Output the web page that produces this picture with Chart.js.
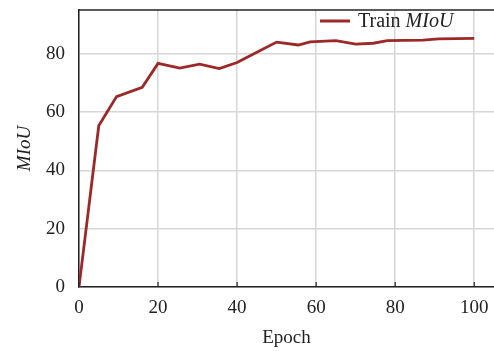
<!DOCTYPE html>
<html>
<head>
<meta charset="utf-8">
<script src="https://cdn.jsdelivr.net/npm/chart.js@4.4.1/dist/chart.umd.min.js"></script>
<style>
  html, body { margin: 0; padding: 0; background: #fff; }
  #wrap { width: 494px; height: 351px; position: relative; }
</style>
</head>
<body>
<div id="wrap"><canvas id="grafico"></canvas></div>
<script>
// datos
const epochs = [0, 5, 9.5, 16, 20, 25.5, 30.5, 35.5, 40, 45, 50, 55.5, 58.5, 65, 70, 74.5, 78, 87, 91, 100];
const trainMiou = [0, 55.3, 65.3, 68.5, 76.7, 75.1, 76.4, 74.9, 77, 80.5, 84, 83, 84.1, 84.5, 83.3, 83.6, 84.5, 84.7, 85.1, 85.3];
const xTicks = [0, 20, 40, 60, 80, 100];
const yTicks = [0, 20, 40, 60, 80];

const serif = "'Liberation Serif', 'Times New Roman', serif";
const texto = '#222';
const rojo = '#9c2828';

// marco superior, marcas internas del eje x y leyenda con MIoU en cursiva
const extras = {
  id: 'extras',
  afterDraw(chart) {
    const { ctx, chartArea: a, scales } = chart;
    ctx.save();
    ctx.strokeStyle = texto;
    ctx.lineWidth = 1.5;
    ctx.beginPath();
    ctx.moveTo(a.left, a.top);
    ctx.lineTo(a.right, a.top);
    ctx.stroke();

    ctx.lineWidth = 1.2;
    xTicks.forEach(v => {
      const px = scales.x.getPixelForValue(v);
      ctx.beginPath();
      ctx.moveTo(px, a.bottom);
      ctx.lineTo(px, a.bottom - 5);
      ctx.stroke();
    });

    const lx = a.right - 174;
    const ly = a.top + 11;
    ctx.strokeStyle = rojo;
    ctx.lineWidth = 3;
    ctx.beginPath();
    ctx.moveTo(lx, ly);
    ctx.lineTo(lx + 30, ly);
    ctx.stroke();

    ctx.fillStyle = texto;
    ctx.textBaseline = 'middle';
    ctx.font = `20px ${serif}`;
    const parte1 = 'Train ';
    ctx.fillText(parte1, lx + 38, ly + 1);
    const w = ctx.measureText(parte1).width;
    ctx.font = `italic 20px ${serif}`;
    ctx.fillText('MIoU', lx + 38 + w, ly + 1);
    ctx.restore();
  }
};

new Chart(document.getElementById('grafico'), {
  type: 'line',
  data: {
    datasets: [{
      label: 'Train MIoU',
      data: epochs.map((e, i) => ({ x: e, y: trainMiou[i] })),
      borderColor: rojo,
      backgroundColor: rojo,
      borderWidth: 2.8,
      pointRadius: 0,
      tension: 0,
      fill: false
    }]
  },
  options: {
    responsive: true,
    maintainAspectRatio: false,
    devicePixelRatio: 1,
    animation: false,
    layout: { padding: { top: 10, right: 0, left: 0, bottom: 0 } },
    plugins: {
      legend: { display: false },
      tooltip: { enabled: false }
    },
    scales: {
      x: {
        type: 'linear',
        min: 0,
        max: 105,
        afterFit: s => {
          s.height = 64;
          s.paddingLeft = 0;
          s.paddingRight = 0;
        },
        afterBuildTicks: s => { s.ticks = xTicks.map(v => ({ value: v })); },
        grid: { color: '#d6d6d6', lineWidth: 1.5, drawTicks: false },
        border: { display: true, color: texto, width: 1.5 },
        ticks: { padding: 10, color: texto, font: { family: serif, size: 19 } },
        title: {
          display: true,
          text: 'Epoch',
          color: texto,
          font: { family: serif, size: 19 },
          padding: { top: 0, bottom: 2 }
        }
      },
      y: {
        min: 0,
        max: 95,
        afterFit: s => {
          s.width = 79;
          s.paddingTop = 0;
          s.paddingBottom = 0;
        },
        afterBuildTicks: s => { s.ticks = yTicks.map(v => ({ value: v })); },
        grid: { color: '#d6d6d6', lineWidth: 1.5, drawTicks: false },
        border: { display: true, color: texto, width: 1.5 },
        ticks: { padding: 14, color: texto, font: { family: serif, size: 19 } },
        title: {
          display: true,
          text: 'MIoU',
          color: texto,
          font: { family: serif, size: 19, style: 'italic' },
          padding: { top: 14, bottom: 0 }
        }
      }
    }
  },
  plugins: [extras]
});
</script>
</body>
</html>
